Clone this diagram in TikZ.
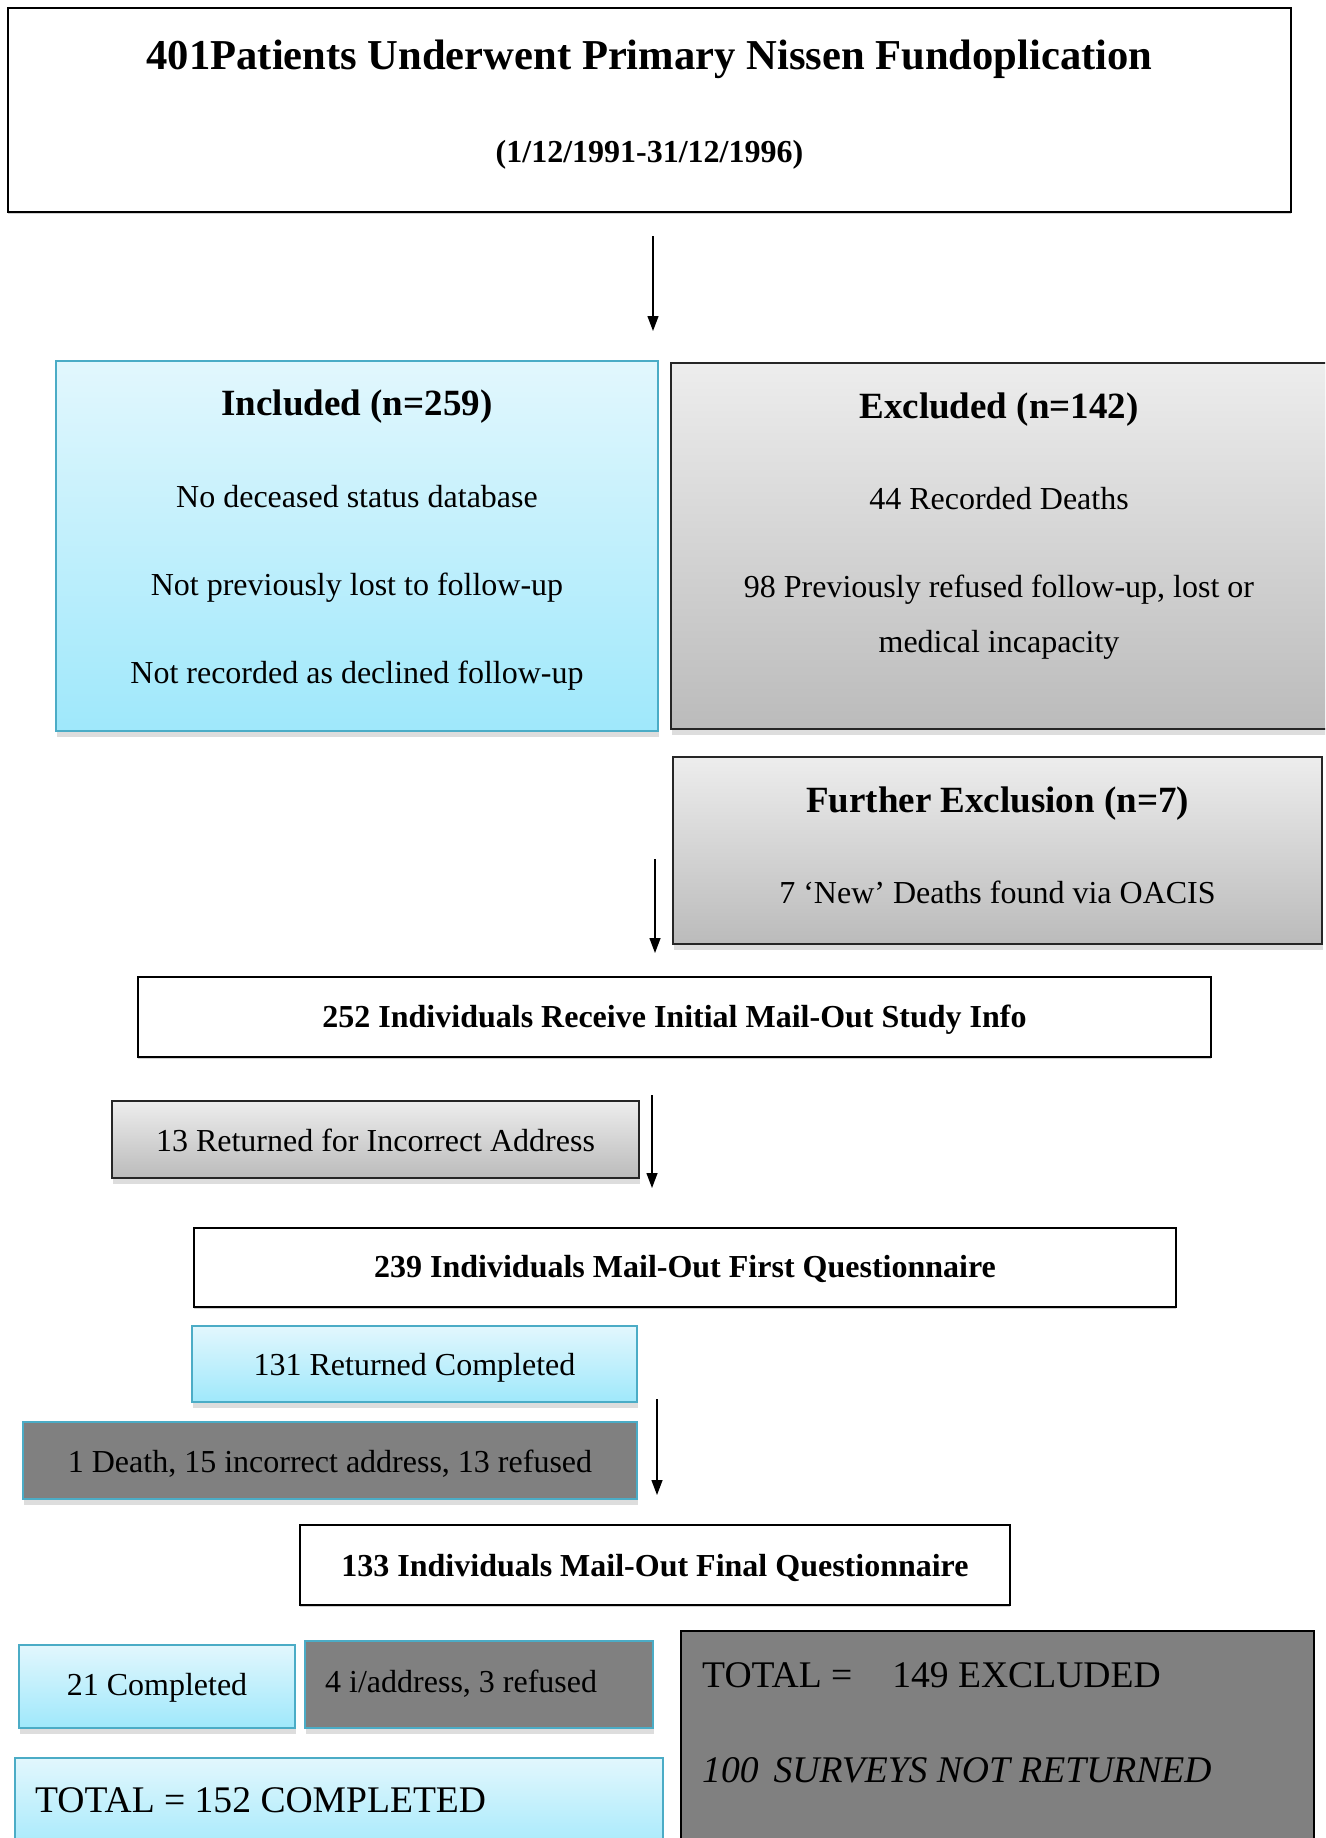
\documentclass[tikz,border=0pt]{standalone}
\usepackage{fontspec}
\setmainfont{Liberation Serif}
\usetikzlibrary{arrows.meta,shadows}
\definecolor{bluebd}{HTML}{4BACC6}
\definecolor{bluetop}{HTML}{E2F7FD}
\definecolor{bluebot}{HTML}{9FE8FB}
\definecolor{graytop}{HTML}{EDEDED}
\definecolor{graybot}{HTML}{BBBBBB}
\definecolor{darkfill}{HTML}{808080}
\tikzset{
  box/.style={rectangle, inner sep=0pt, outer sep=0pt, line width=1.5pt},
  shad/.style={drop shadow={shadow xshift=1pt, shadow yshift=-6pt, opacity=0.22, fill=black!60}},
  lshad/.style={drop shadow={shadow xshift=0pt, shadow yshift=-2pt, opacity=0.3, fill=black!60}},
  plainbox/.style={box, draw=black, fill=white, lshad},
  bluebox/.style={box, draw=bluebd, top color=bluetop, bottom color=bluebot, shad},
  graybox/.style={box, draw=black!85, top color=graytop, bottom color=graybot, shad},
  darkbox/.style={box, draw=bluebd, fill=darkfill, shad},
  darkboxk/.style={box, draw=black, fill=darkfill},
  arr/.style={line width=1.3pt, -{Triangle[length=15pt,width=11pt]}},
  txt/.style={anchor=base, inner sep=0pt},
  tbig/.style={txt, font=\fontsize{42.6}{50}\selectfont\bfseries},
  thead/.style={txt, font=\fontsize{37}{44}\selectfont\bfseries},
  tbold/.style={txt, font=\fontsize{32}{38}\selectfont\bfseries},
  treg/.style={txt, font=\fontsize{32}{38}\selectfont},
  ttot/.style={txt, anchor=base west, font=\fontsize{37.6}{44}\selectfont},
}
\begin{document}
\begin{tikzpicture}[x=1pt,y=-1pt]
\useasboundingbox (0,0) rectangle (1325,1838);
\clip (0,0) rectangle (1325,1838);
\fill[white] (0,0) rectangle (1325,1838);

% top box
\node[plainbox, minimum width=1283, minimum height=204] (top) at (649.5,110) {};
\node[tbig] (top-t1) at (649.5,70) {401Patients Underwent Primary Nissen Fundoplication};
\node[tbold] (top-t2) at (649.5,163) {(1/12/1991-31/12/1996)};

% included / excluded
\node[bluebox, minimum width=602, minimum height=370] (incl) at (357,546) {};
\node[thead] (incl-t0) at (357,415) {Included (n=259)};
\node[treg] (incl-t1) at (357,507) {No deceased status database};
\node[treg] (incl-t2) at (357,595) {Not previously lost to follow-up};
\node[treg] (incl-t3) at (357,683) {Not recorded as declined follow-up};

\node[graybox, minimum width=657, minimum height=366] (excl) at (999.5,546) {};
\node[thead] (excl-t0) at (999,418) {Excluded (n=142)};
\node[treg] (excl-t1) at (999,509) {44 Recorded Deaths};
\node[treg] (excl-t2) at (999,597) {98 Previously refused follow-up, lost or};
\node[treg] (excl-t3) at (999,652) {medical incapacity};

% further exclusion
\node[graybox, minimum width=649, minimum height=187] (furt) at (997.5,850.5) {};
\node[thead] (furt-t0) at (997.5,812) {Further Exclusion (n=7)};
\node[treg] (furt-t1) at (997.5,903) {7 ‘New’ Deaths found via OACIS};

% 252
\node[plainbox, minimum width=1073, minimum height=80] (r252) at (674.5,1017) {};
\node[tbold] (r252-t) at (674.5,1027) {252 Individuals Receive Initial Mail-Out Study Info};

% 13 returned
\node[graybox, minimum width=527, minimum height=77] (r13) at (375.5,1139.5) {};
\node[treg] (r13-t) at (375.5,1151) {13 Returned for Incorrect Address};

% 239
\node[plainbox, minimum width=982, minimum height=79] (r239) at (685,1267.5) {};
\node[tbold] (r239-t) at (685,1277) {239 Individuals Mail-Out First Questionnaire};

% 131
\node[bluebox, minimum width=445, minimum height=76] (r131) at (414.5,1364) {};
\node[treg] (r131-t) at (414.5,1375) {131 Returned Completed};

% 1 death
\node[darkbox, minimum width=614, minimum height=77] (rdeath) at (330,1460.5) {};
\node[treg] (rdeath-t) at (330,1472) {1 Death, 15 incorrect address, 13 refused};

% 133
\node[plainbox, minimum width=710, minimum height=80] (r133) at (655,1565) {};
\node[tbold] (r133-t) at (655,1576) {133 Individuals Mail-Out Final Questionnaire};

% 21 completed / 4 i/address
\node[bluebox, minimum width=276, minimum height=83] (r21) at (157,1686.5) {};
\node[treg] (r21-t) at (157,1695) {21 Completed};
\node[darkbox, minimum width=348, minimum height=87] (r4) at (479,1684.5) {};
\node[treg, anchor=base west] (r4-t) at (325,1692) {4 i/address, 3 refused};

% totals
\node[darkboxk, minimum width=633, minimum height=229] (totexc) at (997.5,1745.5) {};
\node[ttot] (totexc-t1) at (702,1687) {TOTAL =\hspace{40pt}149 EXCLUDED};
\node[ttot, font=\fontsize{37.6}{44}\selectfont\itshape] (totexc-t2) at (702,1782) {100\hspace{15pt}SURVEYS NOT RETURNED};

\node[bluebox, minimum width=648, minimum height=102] (totcomp) at (339,1809) {};
\node[ttot] (totcomp-t) at (35,1812) {TOTAL = 152 COMPLETED};

% arrows
\coordinate (a1s) at (653,236);  \coordinate (a1e) at (653,331);
\coordinate (a2s) at (655,859);  \coordinate (a2e) at (655,953);
\coordinate (a3s) at (652,1095); \coordinate (a3e) at (652,1188);
\coordinate (a4s) at (657,1399); \coordinate (a4e) at (657,1495);
\draw[arr] (a1s) -- (a1e);
\draw[arr] (a2s) -- (a2e);
\draw[arr] (a3s) -- (a3e);
\draw[arr] (a4s) -- (a4e);
\end{tikzpicture}
\end{document}
